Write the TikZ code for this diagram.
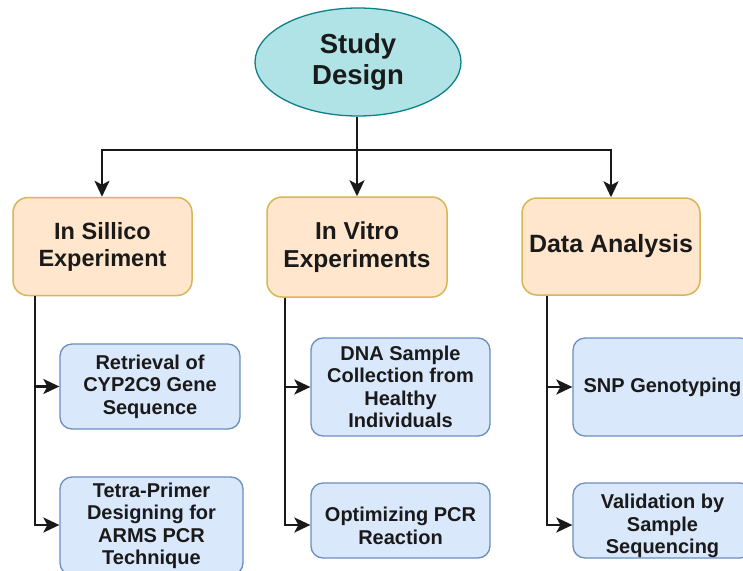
\documentclass[tikz,border=0pt]{standalone}
\usepackage{fontspec}
\setmainfont{Liberation Sans}
\usetikzlibrary{shapes.geometric,arrows.meta}
\definecolor{tealfill}{HTML}{B0E3E6}
\definecolor{tealline}{HTML}{0E8088}
\definecolor{orfill}{HTML}{FFE6CC}
\definecolor{orline}{HTML}{D6B656}
\definecolor{blfill}{HTML}{DAE8FC}
\definecolor{blline}{HTML}{6C8EBF}
\definecolor{txt}{HTML}{1A1A1A}
\tikzset{
  rootnode/.style={ellipse, draw=tealline, fill=tealfill, line width=1.3pt,
    minimum width=206pt, minimum height=108pt, inner sep=0pt,
    align=center, text=txt, font=\fontsize{27.5}{31}\selectfont\bfseries},
  catbox/.style={rectangle, rounded corners=15pt, draw=orline, fill=orfill, line width=1.5pt,
    minimum width=179pt, minimum height=98pt, inner sep=0pt,
    align=center, text=txt, font=\fontsize{23.5}{27}\selectfont\bfseries},
  subbox/.style={rectangle, rounded corners=12pt, draw=blline, fill=blfill, line width=1.3pt,
    minimum width=180pt, inner sep=0pt,
    align=center, text=txt, font=\fontsize{20}{22.5}\selectfont\bfseries},
  subtext/.style={inner sep=0pt, align=center, text=txt, font=\fontsize{20}{22.5}\selectfont\bfseries},
  tipstyle/.style={arrows={-{Stealth[length=16pt 0,width=15pt 0,inset=4pt 0]}}},
  conn/.style={line width=2.2pt, draw=black!90, tipstyle},
  plain/.style={line width=2.2pt, draw=black!90}
}
\begin{document}
\begin{tikzpicture}[x=1pt,y=-1pt]
\useasboundingbox (0,0) rectangle (743,570);
\fill[white] (0,0) rectangle (743,570);
\clip (0,0) rectangle (743,570);

\node[rootnode] (sd) at (358,62) {Study\\Design};

\node[catbox] (a) at (102.5,246.5) {In Sillico\\Experiment};
\node[catbox, minimum width=180pt, minimum height=100pt, font=\fontsize{24.5}{27.5}\selectfont\bfseries] (b) at (357,247) {In Vitro\\Experiments};
\node[catbox, minimum width=178pt, minimum height=97pt, font=\fontsize{25}{28}\selectfont\bfseries] (c) at (611,246.5) {Data Analysis};

\node[subbox, minimum height=85pt] (a1) at (150,386.5) {Retrieval of\\CYP2C9 Gene\\Sequence};
\node[subbox, minimum width=183pt, minimum height=98pt] (a2) at (151.5,526) {Tetra-Primer\\Designing for\\ARMS PCR\\Technique};

\node[subbox, minimum width=179pt, minimum height=98pt] (b1) at (400.5,387) {DNA Sample\\Collection from\\Healthy\\Individuals};
\node[subbox, minimum width=179pt, minimum height=75pt] (b2) at (400.5,520.5) {};
\node[subtext] (b2t) at (400.5,526) {Optimizing PCR\\Reaction};

\node[subbox, minimum width=179pt, minimum height=98pt] (c1) at (662.5,387) {SNP Genotyping};
\node[subbox, minimum width=179pt, minimum height=75pt] (c2) at (662.5,520.5) {};
\node[subtext] (c2t) at (662.5,526) {Validation by\\Sample\\Sequencing};

\coordinate (hl) at (102,150);
\coordinate (hr) at (611,150);
\coordinate (hm) at (357,150);

\draw[plain] (sd.south -| hm) -- (hm);
\draw[conn] (hm) -- (b.north -| hm);
\draw[conn] (hl) -- (hr) -- (c.north -| hr);
\draw[conn] (hm) -- (hl) -- (a.north -| hl);

\coordinate (av) at (35,296);
\coordinate (bv) at (285,297);
\coordinate (cv) at (547,295);

\draw[conn] (a.south -| av) |- (a1.west);
\draw[conn] (a.south -| av) |- (a2.west |- 0,525);
\draw[conn] (b.south -| bv) |- (b1.west);
\draw[conn] (b.south -| bv) |- (b2.west |- 0,525);
\draw[conn] (c.south -| cv) |- (c1.west);
\draw[conn] (c.south -| cv) |- (c2.west |- 0,525);
\end{tikzpicture}
\end{document}
